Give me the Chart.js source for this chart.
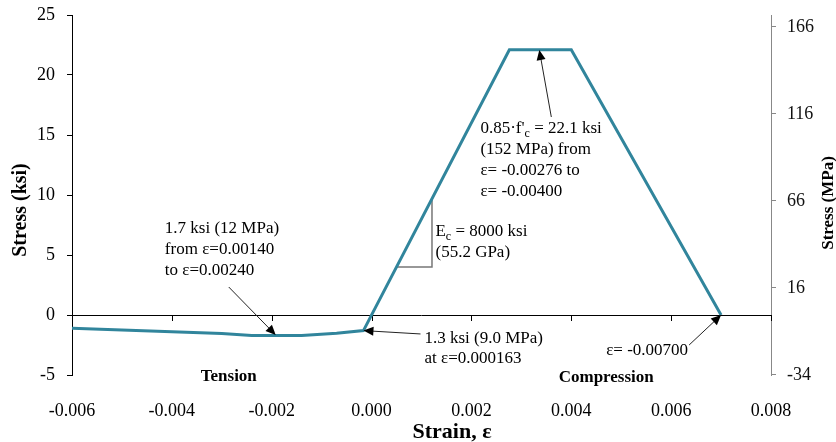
<!DOCTYPE html>
<html>
<head>
<meta charset="utf-8">
<script src="https://cdn.jsdelivr.net/npm/chart.js@4.4.1/dist/chart.umd.min.js"></script>
<style>
  html, body { margin: 0; padding: 0; background: #fff; }
  #wrap { width: 836px; height: 442px; }
</style>
</head>
<body>
<div id="wrap"><canvas id="chart" width="836" height="442"></canvas></div>
<script>
// stress-strain data (strain, stress in ksi)
const strain = [-0.006, -0.005, -0.004, -0.003, -0.0024, -0.0014, -0.0007, -0.000163, 0.00276, 0.004, 0.007];
const stress = [-1.1, -1.25, -1.4, -1.55, -1.7, -1.7, -1.52, -1.3, 22.1, 22.1, 0];

const xTicks = [-0.006, -0.004, -0.002, 0.000, 0.002, 0.004, 0.006, 0.008];
const ksiTicks = [-5, 0, 5, 10, 15, 20, 25];
const mpaTicks = [-34.47, 15.53, 65.53, 115.53, 165.53];
const ksiToMpa = 6.895;
const Ec = 8000;

const FONT = "'Liberation Serif', 'Times New Roman', serif";
const lineColor = '#31859C';

// annotation text, anchored in data coordinates
const notes = [
  { x: -0.00414, y: 6.83, gap: 21, align: 'left', lines: [[['1.7 ksi (12 MPa)']], [['from ε=0.00140']], [['to ε=0.00240']]] },
  { x: 0.00106, y: -2.33, gap: 20, align: 'left', lines: [[['1.3 ksi (9.0 MPa)']], [['at ε=0.000163']]] },
  { x: 0.00128, y: 6.58, gap: 21, align: 'left', lines: [[['E'], ['c', 1], [' = 8000 ksi']], [['(55.2 GPa)']]] },
  { x: 0.00218, y: 15.19, gap: 21, align: 'left', lines: [[["0.85·f'"], ['c', 1], [' = 22.1 ksi']], [['(152 MPa) from']], [['ε= -0.00276 to']], [['ε= -0.00400']]] },
  { x: 0.00634, y: -3.33, gap: 20, align: 'right', lines: [[['ε= -0.00700']]] }
];
const arrows = [
  { from: [-0.00286, 2.33], to: [-0.00192, -1.67] },
  { from: [0.00098, -1.58], to: [-0.000163, -1.3] },
  { from: [0.0036, 16.5], to: [0.00336, 22.08] },
  { from: [0.00636, -2.5], to: [0.007, 0] }
];
const regionLabels = [
  { text: 'Tension', x: -0.00286, y: -5.5 },
  { text: 'Compression', x: 0.0047, y: -5.58 }
];
const slopeLeg = [0.0005, 0.00121];

function drawRich(ctx, parts, x, y, align) {
  const size = 17, subSize = 12;
  let total = 0;
  parts.forEach(p => {
    ctx.font = (p[1] ? subSize : size) + 'px ' + FONT;
    total += ctx.measureText(p[0]).width;
  });
  let cx = align === 'right' ? x - total : x;
  ctx.textAlign = 'left';
  ctx.textBaseline = 'alphabetic';
  parts.forEach(p => {
    ctx.font = (p[1] ? subSize : size) + 'px ' + FONT;
    ctx.fillText(p[0], cx, p[1] ? y + 4 : y);
    cx += ctx.measureText(p[0]).width;
  });
}

function drawArrow(ctx, x1, y1, x2, y2) {
  const ang = Math.atan2(y2 - y1, x2 - x1);
  const len = 10, hw = 4.5;
  ctx.strokeStyle = '#222';
  ctx.fillStyle = '#000';
  ctx.lineWidth = 1;
  ctx.beginPath();
  ctx.moveTo(x1, y1);
  ctx.lineTo(x2 - Math.cos(ang) * len * 0.8, y2 - Math.sin(ang) * len * 0.8);
  ctx.stroke();
  ctx.beginPath();
  ctx.moveTo(x2, y2);
  ctx.lineTo(x2 - Math.cos(ang) * len - Math.sin(ang) * hw, y2 - Math.sin(ang) * len + Math.cos(ang) * hw);
  ctx.lineTo(x2 - Math.cos(ang) * len + Math.sin(ang) * hw, y2 - Math.sin(ang) * len - Math.cos(ang) * hw);
  ctx.closePath();
  ctx.fill();
}

// fix axis box sizes so the plot area sits where the reference has it
function fixWidth(w) {
  return s => { s.width = w; s.paddingTop = 0; s.paddingBottom = 0; };
}

const extras = {
  id: 'extras',
  beforeDatasetsDraw(chart) {
    const { ctx, scales: { x, y } } = chart;
    const y0 = y.getPixelForValue(0);
    ctx.save();
    ctx.strokeStyle = '#000';
    ctx.lineWidth = 1;
    ctx.beginPath();
    ctx.moveTo(x.left, y0 + 0.5);
    ctx.lineTo(x.right, y0 + 0.5);
    xTicks.forEach(t => {
      const px = Math.round(x.getPixelForValue(t)) + 0.5;
      ctx.moveTo(px, y0);
      ctx.lineTo(px, y0 + 6);
    });
    ctx.stroke();
    // modulus slope triangle
    const ax = x.getPixelForValue(slopeLeg[0]);
    const bx = x.getPixelForValue(slopeLeg[1]);
    const ay = y.getPixelForValue(slopeLeg[0] * Ec);
    const by = y.getPixelForValue(slopeLeg[1] * Ec);
    ctx.strokeStyle = '#777';
    ctx.lineWidth = 1.5;
    ctx.beginPath();
    ctx.moveTo(ax, ay);
    ctx.lineTo(bx, ay);
    ctx.lineTo(bx, by);
    ctx.stroke();
    ctx.restore();
  },
  afterDraw(chart) {
    const { ctx, scales: { x, y } } = chart;
    ctx.save();
    ctx.fillStyle = '#000';
    notes.forEach(n => {
      const px = x.getPixelForValue(n.x);
      const py = y.getPixelForValue(n.y);
      n.lines.forEach((parts, i) => drawRich(ctx, parts, px, py + i * n.gap, n.align));
    });
    arrows.forEach(a => {
      drawArrow(ctx, x.getPixelForValue(a.from[0]), y.getPixelForValue(a.from[1]),
        x.getPixelForValue(a.to[0]), y.getPixelForValue(a.to[1]));
    });
    ctx.fillStyle = '#000';
    ctx.font = 'bold 17px ' + FONT;
    ctx.textAlign = 'center';
    ctx.textBaseline = 'alphabetic';
    regionLabels.forEach(r => ctx.fillText(r.text, x.getPixelForValue(r.x), y.getPixelForValue(r.y)));

    // axis titles
    ctx.font = 'bold 22px ' + FONT;
    ctx.fillText('Strain, ε', 452, 438);
    ctx.textBaseline = 'middle';
    ctx.save();
    ctx.translate(21, 210);
    ctx.rotate(-Math.PI / 2);
    ctx.font = 'bold 20px ' + FONT;
    ctx.fillText('Stress (ksi)', 0, 0);
    ctx.restore();
    ctx.save();
    ctx.translate(829, 203);
    ctx.rotate(-Math.PI / 2);
    ctx.font = 'bold 17px ' + FONT;
    ctx.fillText('Stress (MPa)', 0, 0);
    ctx.restore();
    ctx.restore();
  }
};

new Chart(document.getElementById('chart'), {
  type: 'scatter',
  data: {
    datasets: [{
      data: strain.map((s, i) => ({ x: s, y: stress[i] })),
      showLine: true,
      borderColor: lineColor,
      borderWidth: 3,
      pointRadius: 0,
      fill: false,
      tension: 0
    }, {
      data: [],
      yAxisID: 'y2'
    }]
  },
  options: {
    responsive: false,
    animation: false,
    layout: { padding: { top: 15, left: 0, right: 0, bottom: 0 } },
    plugins: { legend: { display: false }, tooltip: { enabled: false } },
    scales: {
      x: {
        type: 'linear',
        position: 'bottom',
        min: -0.006,
        max: 0.008,
        afterBuildTicks: s => { s.ticks = xTicks.map(v => ({ value: v })); },
        afterFit: s => { s.height = 67; },
        grid: { display: false },
        border: { display: false },
        ticks: {
          color: '#000',
          padding: 17,
          maxRotation: 0,
          font: { family: FONT, size: 18 },
          callback: v => v.toFixed(3)
        }
      },
      y: {
        position: 'left',
        min: -5,
        max: 25,
        afterBuildTicks: s => { s.ticks = ksiTicks.map(v => ({ value: v })); },
        afterFit: fixWidth(72),
        grid: { display: true, drawOnChartArea: false, drawTicks: true, tickLength: 5, color: '#000' },
        border: { display: true, color: '#000', width: 1 },
        ticks: { color: '#000', padding: 12, font: { family: FONT, size: 18 } }
      },
      y2: {
        position: 'right',
        min: -5 * ksiToMpa,
        max: 25 * ksiToMpa,
        afterBuildTicks: s => { s.ticks = mpaTicks.map(v => ({ value: v })); },
        afterFit: fixWidth(65),
        grid: { display: true, drawOnChartArea: false, drawTicks: true, tickLength: 5, color: '#888' },
        border: { display: true, color: '#888', width: 1 },
        ticks: { color: '#111', padding: 11, font: { family: FONT, size: 18 }, callback: v => Math.round(v) }
      }
    }
  },
  plugins: [extras]
});
</script>
</body>
</html>
